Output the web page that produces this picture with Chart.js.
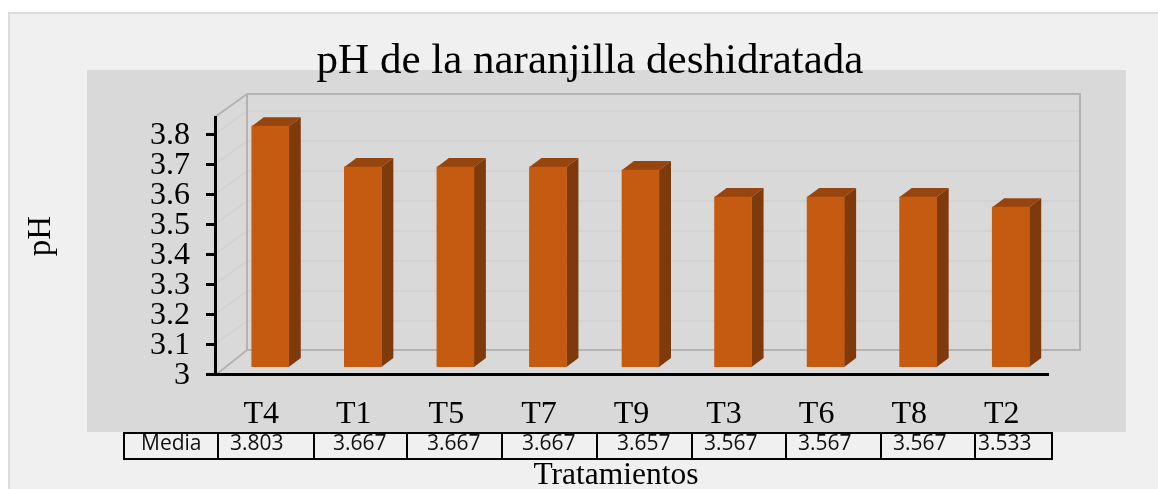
<!DOCTYPE html>
<html lang="es">
<head>
<meta charset="utf-8">
<title>pH de la naranjilla deshidratada</title>
<script src="https://cdn.jsdelivr.net/npm/chart.js@4"></script>
<style>
  html, body { margin: 0; padding: 0; background: #fff; }
  #wrap { width: 1158px; height: 489px; }
</style>
</head>
<body>
<div id="wrap"><canvas id="phChart" width="1158" height="489"></canvas></div>
<script>
const tratamientos = ['T4', 'T1', 'T5', 'T7', 'T9', 'T3', 'T6', 'T8', 'T2'];
const medias = [3.803, 3.667, 3.667, 3.667, 3.657, 3.567, 3.567, 3.567, 3.533];
const yTicks = [3, 3.1, 3.2, 3.3, 3.4, 3.5, 3.6, 3.7, 3.8];

// Bordes de la tabla y inicio del texto de cada celda
const tablaBordes = [124, 218, 314, 407, 502, 597, 692, 786, 881, 975, 1052];
const tablaTextoX = [141, 230, 333, 427, 522, 617, 704, 798, 893, 978];

const SERIF = '"Liberation Serif", serif';
const SANS = '"Open Sans", sans-serif';

// Paredes del falso 3D: desplazamiento de la pared del fondo
const FONDO_X = 32, FONDO_Y = -23;
// Frente de la barra y profundidad de la barra
const BARRA_X = 9, BARRA_Y = -7, PROF_X = 12, PROF_Y = -9;

const fondoPlugin = {
  id: 'fondo',
  beforeDraw(chart) {
    const ctx = chart.ctx;
    const { left, right, top, bottom } = chart.chartArea;
    const y = chart.scales.y;
    ctx.save();
    ctx.fillStyle = '#fff';
    ctx.fillRect(0, 0, 1158, 489);
    ctx.fillStyle = '#f0f0f0';
    ctx.fillRect(8, 12, 1150, 477);
    ctx.fillStyle = '#dcdcdc';
    ctx.fillRect(8, 12, 1150, 2);
    ctx.fillRect(8, 12, 2, 477);
    ctx.fillStyle = '#d9d9d9';
    ctx.fillRect(87, 70, 1039, 362);

    // lineas de division en fondo y pared lateral
    ctx.strokeStyle = '#d1d1d1';
    ctx.lineWidth = 1.5;
    yTicks.slice(1).forEach(v => {
      const py = y.getPixelForValue(v);
      ctx.beginPath();
      ctx.moveTo(left, py);
      ctx.lineTo(left + FONDO_X, py + FONDO_Y);
      ctx.lineTo(right + FONDO_X, py + FONDO_Y);
      ctx.stroke();
    });

    // marco del fondo
    ctx.strokeStyle = '#b6b2b2';
    ctx.lineWidth = 2;
    ctx.strokeRect(left + FONDO_X, top + FONDO_Y, right - left, bottom - top - 1);
    ctx.beginPath();
    ctx.moveTo(left, top);
    ctx.lineTo(left + FONDO_X, top + FONDO_Y);
    ctx.moveTo(left + 2, bottom);
    ctx.lineTo(left + FONDO_X, bottom + FONDO_Y - 1);
    ctx.stroke();
    ctx.restore();
  }
};

const barras3dPlugin = {
  id: 'barras3d',
  beforeDatasetDraw(chart, args) {
    const ctx = chart.ctx;
    // la base real de la barra cae en el valor 0, aqui el eje empieza en 3
    const base = chart.scales.y.getPixelForValue(yTicks[0]);
    ctx.save();
    ctx.translate(BARRA_X, BARRA_Y);
    args.meta.data.forEach(bar => {
      const l = bar.x - bar.width / 2, r = bar.x + bar.width / 2;
      // cara superior
      ctx.fillStyle = '#97450f';
      ctx.beginPath();
      ctx.moveTo(l, bar.y);
      ctx.lineTo(l + PROF_X, bar.y + PROF_Y);
      ctx.lineTo(r + PROF_X, bar.y + PROF_Y);
      ctx.lineTo(r, bar.y);
      ctx.closePath();
      ctx.fill();
      // cara lateral
      ctx.fillStyle = '#7f3a0b';
      ctx.beginPath();
      ctx.moveTo(r, bar.y);
      ctx.lineTo(r + PROF_X, bar.y + PROF_Y);
      ctx.lineTo(r + PROF_X, base + PROF_Y);
      ctx.lineTo(r, base);
      ctx.closePath();
      ctx.fill();
    });
  },
  afterDatasetDraw(chart) {
    chart.ctx.restore();
  }
};

const textosPlugin = {
  id: 'textos',
  afterDraw(chart) {
    const ctx = chart.ctx;
    ctx.save();
    ctx.fillStyle = '#000';

    // titulos de los ejes
    ctx.font = '31.5px ' + SERIF;
    ctx.textAlign = 'center';
    ctx.textBaseline = 'middle';
    ctx.fillText('Tratamientos', 616, 476);
    ctx.save();
    ctx.font = '33px ' + SERIF;
    ctx.translate(41, 236);
    ctx.rotate(-Math.PI / 2);
    ctx.fillText('pH', 0, 0);
    ctx.restore();

    // tabla de medias
    ctx.strokeStyle = '#000';
    ctx.lineWidth = 2;
    const x0 = tablaBordes[0], x1 = tablaBordes[tablaBordes.length - 1];
    ctx.strokeRect(x0, 433, x1 - x0, 26);
    tablaBordes.slice(1, -1).forEach(x => {
      ctx.beginPath();
      ctx.moveTo(x, 433);
      ctx.lineTo(x, 459);
      ctx.stroke();
    });
    ctx.font = '21px ' + SANS;
    ctx.textAlign = 'left';
    ctx.fillStyle = '#111';
    ctx.fillText('Media', tablaTextoX[0], 444);
    medias.forEach((m, i) => {
      ctx.fillText(m.toFixed(3), tablaTextoX[i + 1], 444);
    });
    ctx.restore();
  }
};

new Chart(document.getElementById('phChart').getContext('2d'), {
  type: 'bar',
  data: {
    labels: tratamientos,
    datasets: [{
      label: 'pH',
      data: medias,
      backgroundColor: '#c55a11',
      barThickness: 37
    }]
  },
  plugins: [fondoPlugin, barras3dPlugin, textosPlugin],
  options: {
    responsive: false,
    animation: false,
    layout: {
      padding: { left: 132, right: 110, top: 0, bottom: 0 }
    },
    plugins: {
      legend: { display: false },
      tooltip: { enabled: false },
      title: {
        display: true,
        text: 'pH de la naranjilla deshidratada',
        color: '#000',
        font: { family: SERIF, size: 43, weight: 'normal', lineHeight: 1 },
        padding: { top: 40, bottom: 34 }
      }
    },
    scales: {
      x: {
        afterFit(scale) { scale.height = 115; },
        border: { color: '#000', width: 3 },
        grid: { drawOnChartArea: false, drawTicks: false },
        ticks: {
          color: '#000',
          maxRotation: 0,
          padding: 21,
          font: { family: SERIF, size: 32 }
        }
      },
      y: {
        min: 3,
        max: 3.857,
        afterFit(scale) { scale.width = 83; },
        afterBuildTicks(scale) { scale.ticks = yTicks.map(v => ({ value: v })); },
        border: { color: '#000', width: 3 },
        grid: { drawOnChartArea: false, color: '#000', lineWidth: 3, tickLength: 9 },
        ticks: {
          color: '#000',
          autoSkip: false,
          padding: 16,
          labelOffset: 2,
          font: { family: SERIF, size: 32 },
          callback: v => String(v)
        }
      }
    }
  }
});
</script>
</body>
</html>
